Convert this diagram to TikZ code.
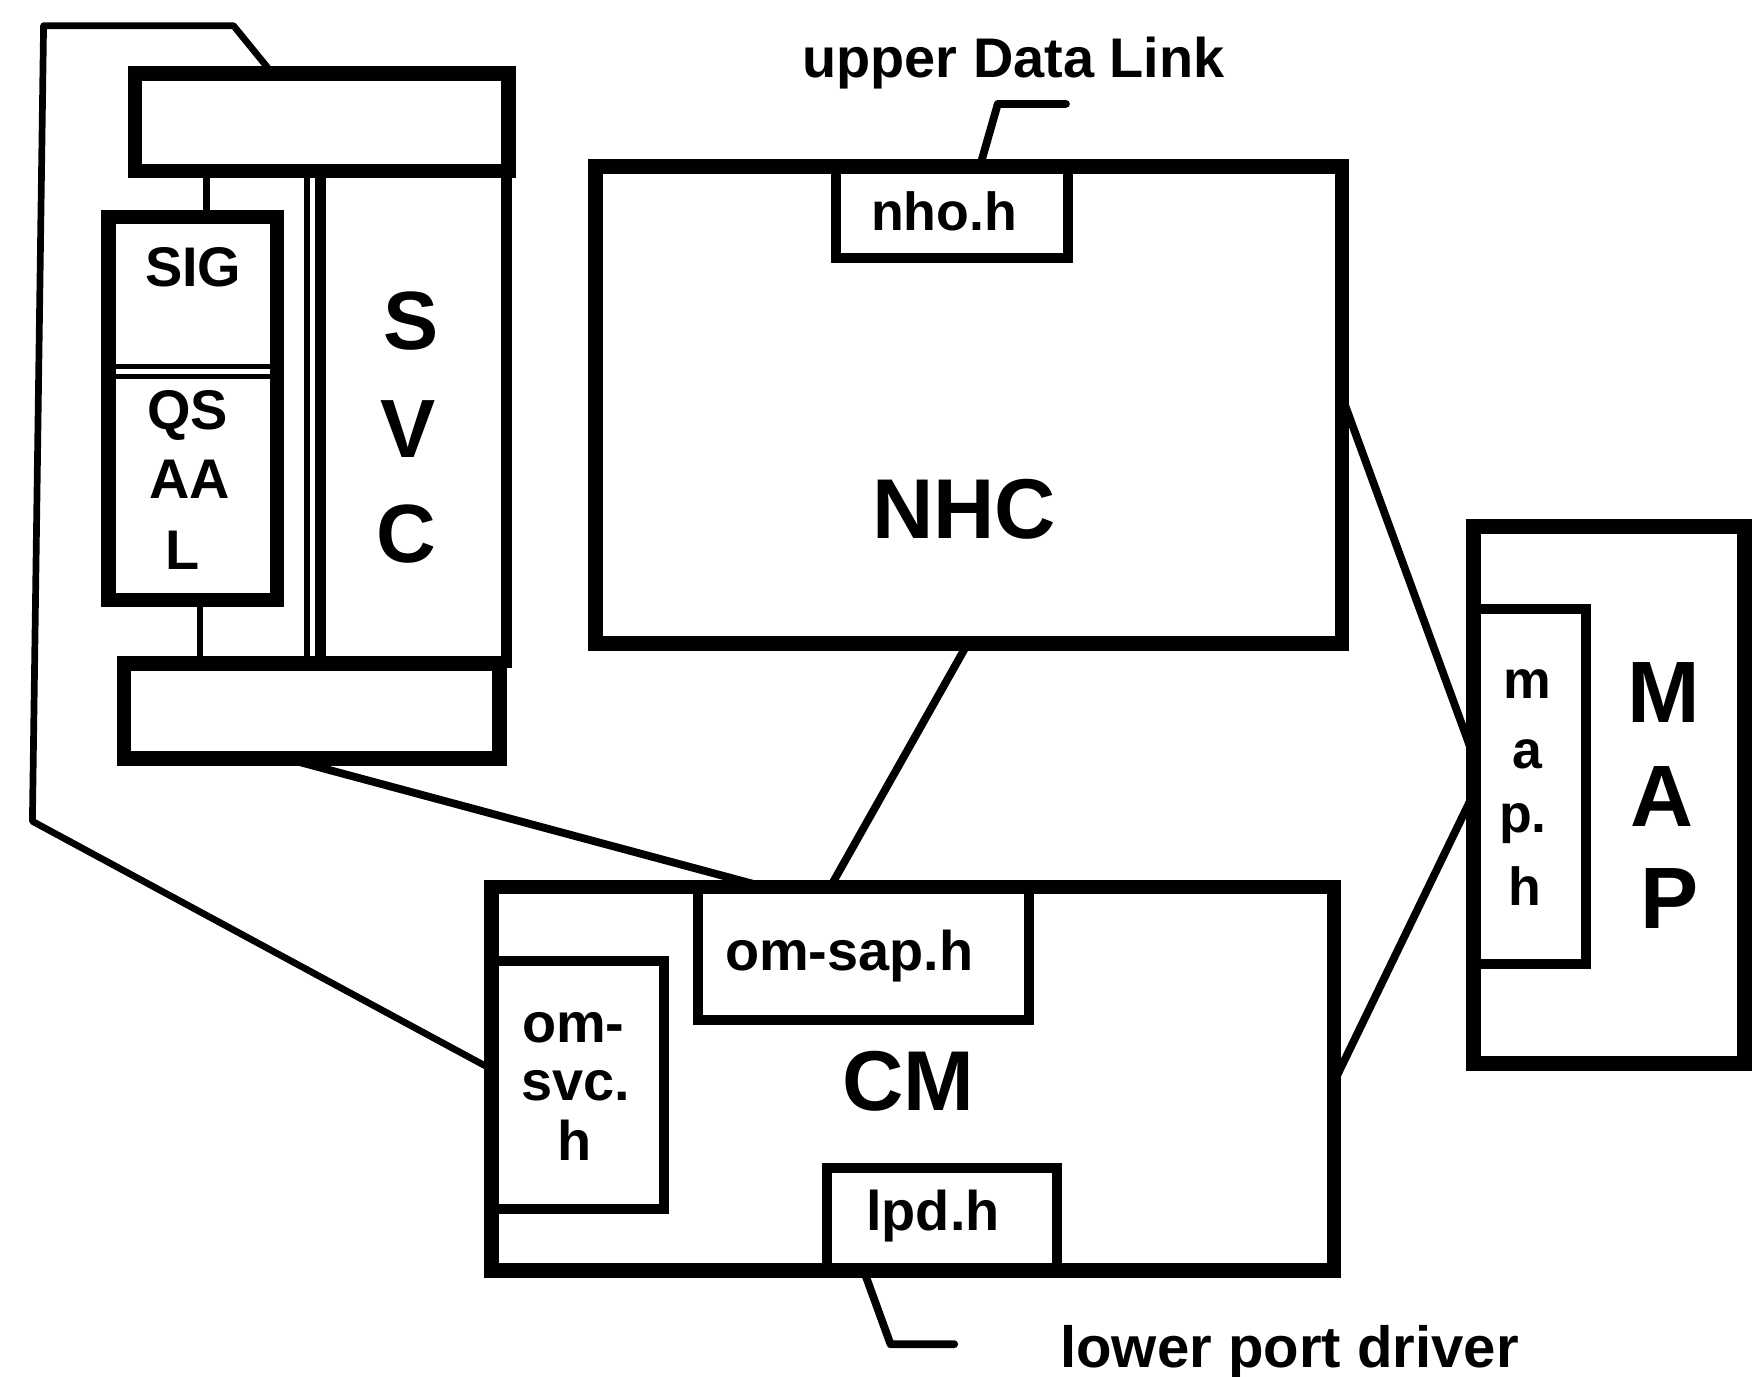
\documentclass[tikz,border=0pt]{standalone}
\usepackage{fontspec}
\setmainfont{Liberation Sans}
\usetikzlibrary{calc}
\newcommand\tsz[1]{\fontsize{#1pt}{#1pt}\selectfont\bfseries}
\begin{document}
\begin{tikzpicture}[x=1pt,y=-1pt,
  box/.style={draw, rectangle, inner sep=0pt, outer sep=0pt, line width=13pt},
  subbox/.style={box, line width=9pt},
  wire/.style={line width=7pt, line join=round, line cap=round},
  thinwire/.style={line width=5pt},
  txt/.style={inner sep=0pt, anchor=base, font={\tsz{50}}},
  big/.style={txt, font={\tsz{76}}}]
\fill[white] (0,0) rectangle (1568,1232);
\useasboundingbox (0,0) rectangle (1568,1232);

% ---------- SVC complex ----------
\node[box, minimum width=334pt, minimum height=87pt] (upperbar) at (288,109.5) {};
\node[box, line width=10pt, minimum width=166pt, minimum height=440pt] (svccol) at (370,373) {};
\node[box, minimum width=336pt, minimum height=85pt] (lowerbar) at (279,636.5) {};
\node[box, minimum width=151pt, minimum height=343pt] (sigbox) at (172.5,365.5) {};
\draw[line width=4pt] ($(sigbox.north west)+(0,134)$) -- ($(sigbox.north east)+(0,134)$);
\draw[line width=4pt] ($(sigbox.north west)+(0,143)$) -- ($(sigbox.north east)+(0,143)$);
\coordinate (sepx) at (275,0);
\draw[thinwire] (upperbar.south -| sepx) -- (lowerbar.north -| sepx);
\coordinate (sigx) at (185,0);
\draw[wire, line width=6pt, line cap=butt] (upperbar.south -| sigx) -- (sigbox.north -| sigx);
\coordinate (qsx) at (179,0);
\draw[wire, line width=6pt, line cap=butt] (sigbox.south -| qsx) -- (lowerbar.north -| qsx);

\node[txt] (sigtxt) at (173,256) {SIG};
\node[txt] (qstxt) at (168,384) {QS};
\node[txt] (aatxt) at (170,446) {AA};
\node[txt] (ltxt) at (163,510) {L};
\node[big, font={\tsz{74}}] (svcS) at (368,313) {S};
\node[big, font={\tsz{74}}] (svcV) at (365,409) {V};
\node[big, font={\tsz{74}}] (svcC) at (364,503) {C};

% ---------- NHC ----------
\node[box, minimum width=668pt, minimum height=427pt] (nhc) at (867,362.5) {};
\node[subbox, minimum width=208pt, minimum height=82pt] (nho) at (852,190) {};
\node[big] (nhctxt) at (863,482) {NHC};
\node[txt, font={\tsz{48}}] (nhotxt) at (845,206) {nho.h};
\node[txt] (udltxt) at (907,69) {upper Data Link};
\coordinate (udlx) at (877,0);
\coordinate (udl1) at (893,93);
\coordinate (udl2) at (954,93);
\draw[wire] (nhc.north -| udlx) -- (udl1) -- (udl2);

% ---------- CM ----------
\node[box, minimum width=754pt, minimum height=343pt] (cm) at (817,965.5) {};
\node[subbox, minimum width=296pt, minimum height=119pt] (omsap) at (773,853.5) {};
\node[subbox, minimum width=154pt, minimum height=222pt] (omsvc) at (517,971) {};
\node[subbox, minimum width=206pt, minimum height=92pt] (lpd) at (843,1091) {};
\node[big] (cmtxt) at (813,994) {CM};
\node[txt] (omsaptxt) at (760,869) {om-sap.h};
\node[txt] (omsvca) at (513,933) {om-};
\node[txt] (omsvcb) at (515,985) {svc.};
\node[txt] (omsvcc) at (514,1039) {h};
\node[txt] (lpdtxt) at (835,1101) {lpd.h};
\node[txt, font={\tsz{52}}] (lpdlbl) at (1154,1224) {lower port driver};
\coordinate (lpdx) at (773,0);
\coordinate (lpd1) at (797,1203);
\coordinate (lpd2) at (854,1203);
\draw[wire] (cm.south -| lpdx) -- (lpd1) -- (lpd2);

% ---------- MAP ----------
\node[box, minimum width=243pt, minimum height=481pt] (map) at (1440,711.5) {};
\node[subbox, minimum width=101pt, minimum height=318pt] (maph) at (1368.5,704) {};
\node[txt, font={\tsz{48}}] (mapm) at (1367,625) {m};
\node[txt, font={\tsz{48}}] (mapa) at (1367,688) {a};
\node[txt, font={\tsz{48}}] (mapp) at (1363,745) {p.};
\node[txt, font={\tsz{48}}] (maphh) at (1365,810) {h};
\node[big, font={\tsz{78}}] (mapM) at (1489,647) {M};
\node[big, font={\tsz{78}}] (mapA) at (1487,740) {A};
\node[big, font={\tsz{78}}] (mapP) at (1494,831) {P};

% ---------- connectors ----------
\coordinate (nhcy) at (0,355);
\coordinate (mapy1) at (0,676);
\coordinate (cmy2) at (0,968);
\coordinate (mapy2) at (0,711);
\draw[wire] (nhc.east |- nhcy) -- (map.west |- mapy1);
\draw[wire] (cm.east |- cmy2) -- (map.west |- mapy2);
\coordinate (nhcx) at (866,0);
\coordinate (cmx1) at (743,0);
\draw[wire] (nhc.south -| nhcx) -- (cm.north -| cmx1);
\coordinate (lbx) at (257,0);
\coordinate (cmx2) at (685,0);
\draw[wire] (lowerbar.south -| lbx) -- (cm.north -| cmx2);
% outer outline round the SVC complex
\coordinate (ox) at (244,0);
\coordinate (o1) at (209,23);
\coordinate (o2) at (39,23);
\coordinate (o3) at (29,735);
\coordinate (cmy3) at (0,957);
\draw[wire, line width=6pt] (upperbar.north -| ox) -- (o1) -- (o2) -- (o3) -- (cm.west |- cmy3);
\end{tikzpicture}
\end{document}
